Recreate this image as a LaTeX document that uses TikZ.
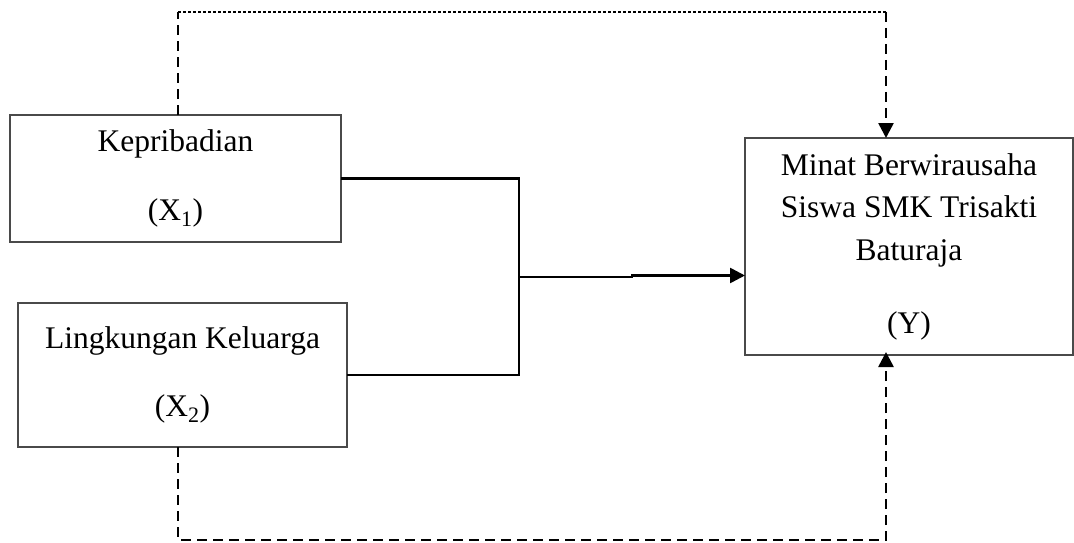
\documentclass[tikz,border=0pt]{standalone}
\usepackage{fontspec}
\setmainfont{Liberation Serif}
\usepackage{tikz}
\usetikzlibrary{arrows.meta,positioning}
\definecolor{ink}{HTML}{000000}
\definecolor{frame}{HTML}{4A4A4A}

\begin{document}
\begin{tikzpicture}[
  x=1pt,y=-1pt,
  font=\fontsize{31.5}{42.5}\selectfont,
  box/.style={draw=frame,line width=1.5pt,fill=white,inner sep=0pt,outer sep=0pt,align=center},
  link/.style={draw=ink,line width=2.6pt},
  arrow/.style={-{Triangle[length=15pt,width=15pt]},draw=ink,line width=2.6pt},
  dashline/.style={draw=ink,line width=2.6pt,dash pattern=on 10pt off 6pt},
  dotline/.style={draw=ink,line width=1.2pt,dash pattern=on 3pt off 2pt},
]
\useasboundingbox (0,0) rectangle (1074,543);

\node[box,minimum width=331pt,minimum height=127pt] (kep) at (175.5,178.5)
  {Kepribadian\\[27pt](X\textsubscript{1})};
\node[box,minimum width=329pt,minimum height=144pt] (ling) at (182.5,375)
  {Lingkungan Keluarga\\[26pt](X\textsubscript{2})};
\node[box,minimum width=328pt,minimum height=217pt] (minat) at (909,246.5)
  {Minat Berwirausaha\\Siswa SMK Trisakti\\Baturaja\\[30.5pt](Y)};

\coordinate (jn) at (519,277);
\coordinate (topl) at (178,12);
\coordinate (topr) at (886,12);
\coordinate (botl) at (178,540);
\coordinate (botr) at (886,540);

% joined solid lines into Y
\draw[link] (kep.east) -- (kep.east -| jn) -- (ling.east -| jn) -- (ling.east);
\draw[arrow] (jn) -- ++(113,0) -- ++(0,-1.5) -- (minat.west |- 0,275.5);

% dashed link X1 -> Y
\draw[dashline] (kep.north -| topl) -- (topl);
\draw[dotline] (topl) -- (topr);
\draw[dashline,-{Triangle[length=15pt,width=15pt]}] (topr) -- (topr |- minat.north);

% dashed link X2 -> Y
\draw[dashline,-{Triangle[length=15pt,width=15pt]}] (ling.south -| botl) -- (botl) -- (botr) -- ([yshift=3pt]botr |- minat.south);
\end{tikzpicture}
\end{document}
